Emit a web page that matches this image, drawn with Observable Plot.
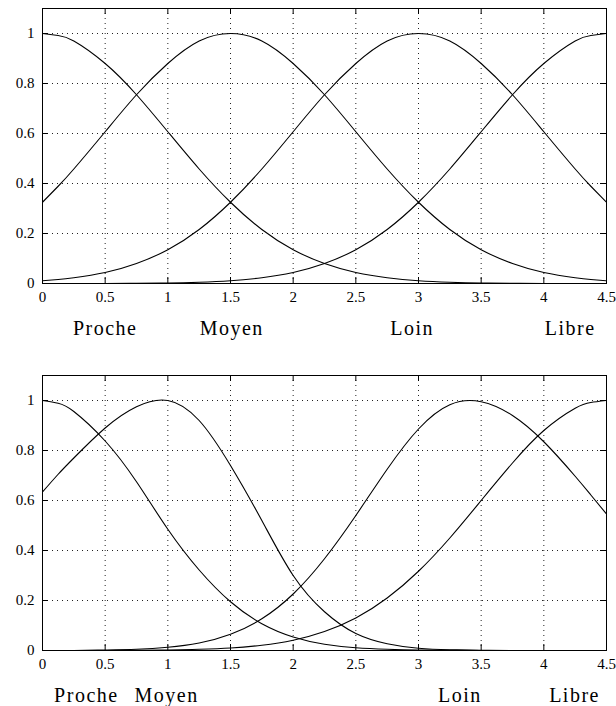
<!DOCTYPE html>
<html>
<head>
<meta charset="utf-8">
<script src="https://cdn.jsdelivr.net/npm/d3@7"></script>
<script src="https://cdn.jsdelivr.net/npm/@observablehq/plot@0.6"></script>
<style>
  html, body { margin: 0; padding: 0; background: white; }
  svg { display: block; }
</style>
</head>
<body>
<div id="chart"></div>
<script>
// ---- data ----
const xs = [0, 0.125, 0.25, 0.5, 0.75, 1, 1.25, 1.5, 1.75, 2, 2.25, 2.5, 2.75, 3, 3.25, 3.5, 3.75, 4, 4.25, 4.375, 4.5];
const categories = ["Proche", "Moyen", "Loin", "Libre"];

// top panel
const topProche = [1, 0.992, 0.97, 0.88, 0.755, 0.607, 0.458, 0.325, 0.216, 0.135, 0.08, 0.044, 0.023, 0.011, 0.005, 0.002, 0.001, 0, 0, 0, 0];
const topMoyen  = [0.325, 0.389, 0.458, 0.607, 0.755, 0.88, 0.97, 1, 0.97, 0.88, 0.755, 0.607, 0.458, 0.325, 0.216, 0.135, 0.08, 0.044, 0.023, 0.016, 0.011];
const topLoin   = [0.011, 0.016, 0.023, 0.044, 0.08, 0.135, 0.216, 0.325, 0.458, 0.607, 0.755, 0.88, 0.97, 1, 0.97, 0.88, 0.755, 0.607, 0.458, 0.389, 0.325];
const topLibre  = [0, 0, 0, 0, 0.001, 0.002, 0.005, 0.011, 0.023, 0.044, 0.08, 0.135, 0.216, 0.325, 0.458, 0.607, 0.755, 0.88, 0.97, 0.992, 1];

// bottom panel
const botProche = [1, 0.989, 0.956, 0.838, 0.675, 0.485, 0.322, 0.195, 0.107, 0.054, 0.025, 0.011, 0.005, 0.002, 0.001, 0, 0, 0, 0, 0, 0];
const botMoyen  = [0.634, 0.705, 0.77, 0.89, 0.975, 1, 0.92, 0.74, 0.52, 0.3, 0.155, 0.068, 0.027, 0.009, 0.003, 0.001, 0, 0, 0, 0, 0];
const botLoin   = [0, 0, 0, 0.002, 0.005, 0.013, 0.03, 0.065, 0.127, 0.226, 0.367, 0.54, 0.725, 0.886, 0.983, 0.995, 0.94, 0.835, 0.697, 0.622, 0.546];
const botLibre  = [0, 0, 0, 0, 0.001, 0.002, 0.005, 0.01, 0.021, 0.041, 0.076, 0.13, 0.21, 0.317, 0.45, 0.6, 0.75, 0.88, 0.969, 0.992, 1];

const xTicks = [0, 0.5, 1, 1.5, 2, 2.5, 3, 3.5, 4, 4.5];
const yTicks = [0, 0.2, 0.4, 0.6, 0.8, 1];
const xTickLabels = ["0", "0.5", "1", "1.5", "2", "2.5", "3", "3.5", "4", "4.5"];
const yTickLabels = ["0", "0.2", "0.4", "0.6", "0.8", "1"];

// layout: where each category name sits along x (in x units)
const topLabelX = [0.5, 1.51, 2.95, 4.21];
const botLabelX = [0.35, 0.99, 3.33, 4.245];

// ---- build ----
function toRows(seriesList) {
  return seriesList.flatMap((vals, k) => xs.map((x, i) => ({name: categories[k], x, v: vals[i]})));
}

const W = 616, ML = 42, MR = 10, IH = 275;
const IW = W - ML - MR;
const FONT = '"Liberation Serif", "Times New Roman", serif';

function panel(seriesList, labelX, height, marginTop, marginBottom) {
  const rows = toRows(seriesList);
  const svg = Plot.plot({
    width: W, height, marginLeft: ML, marginRight: MR, marginTop, marginBottom,
    x: {domain: [0, 4.5], label: null},
    y: {domain: [0, 1.1], label: null},
    style: {fontFamily: FONT, fontSize: "15px", background: "white", color: "black"},
    marks: [
      Plot.gridX(xTicks, {stroke: "#222", strokeOpacity: 1, strokeDasharray: "1,4"}),
      Plot.gridY(yTicks, {stroke: "#222", strokeOpacity: 1, strokeDasharray: "1,4"}),
      Plot.line(rows, {x: "x", y: "v", z: "name", stroke: "black", strokeWidth: 1.1, curve: "natural", clip: true}),
      Plot.frame({stroke: "black", strokeWidth: 1}),
      Plot.tickX(xTicks, {x: d => d, stroke: "black", insetTop: IH - 6}),
      Plot.tickX(xTicks, {x: d => d, stroke: "black", insetBottom: IH - 6}),
      Plot.tickY(yTicks, {y: d => d, stroke: "black", insetRight: IW - 6}),
      Plot.tickY(yTicks, {y: d => d, stroke: "black", insetLeft: IW - 6}),
      Plot.axisX(xTicks, {tickSize: 0, tickPadding: 8, fontSize: 15, label: null,
        tickFormat: d => xTickLabels[xTicks.indexOf(d)]}),
      Plot.axisY(yTicks, {tickSize: 0, tickPadding: 8, fontSize: 15, label: null,
        tickFormat: d => yTickLabels[yTicks.indexOf(d)]}),
      Plot.text(categories, {
        x: (d, i) => labelX[i], text: d => d, frameAnchor: "bottom",
        lineAnchor: "bottom", dy: 51, fontSize: 20, fill: "black"
      })
    ]
  });
  svg.querySelectorAll("text").forEach(t => {
    if (categories.includes(t.textContent)) t.style.letterSpacing = "1.5px";
  });
  return svg;
}

const root = document.getElementById("chart");
root.appendChild(panel([topProche, topMoyen, topLoin, topLibre], topLabelX, 340, 8, 57));
root.appendChild(panel([botProche, botMoyen, botLoin, botLibre], botLabelX, 366, 35, 56));
</script>
</body>
</html>
